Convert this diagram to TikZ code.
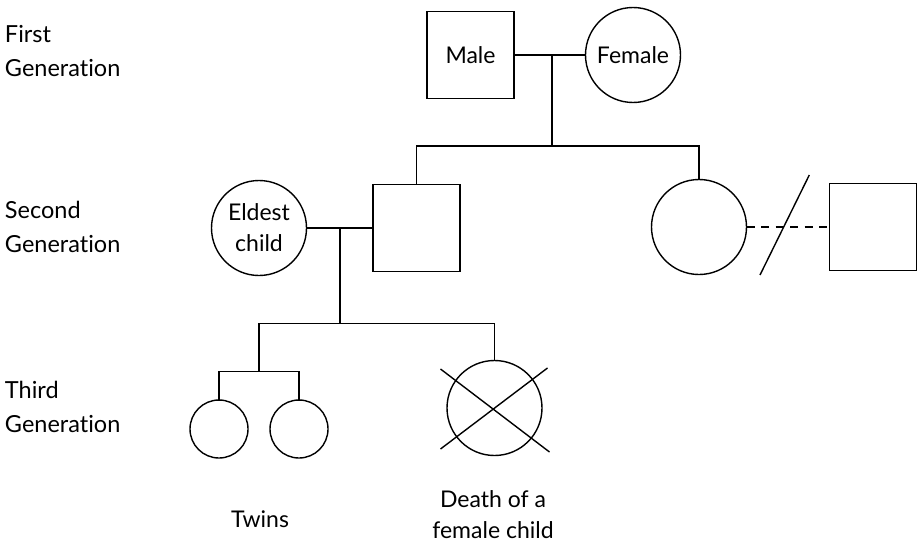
\documentclass[tikz,border=0pt]{standalone}
\usepackage{fontspec}
\setmainfont{Lato}[Ligatures=NoCommon]
\usetikzlibrary{calc}
\begin{document}
\begin{tikzpicture}[x=1pt,y=-1pt,
  every node/.style={inner sep=0pt, outer sep=0pt},
  ln/.style={line width=1.4pt, line cap=rect},
  txt/.style={font=\fontsize{23}{31}\selectfont, align=center},
  genlabel/.style={font=\fontsize{23.5}{34.5}\selectfont, align=left, anchor=base west},
  malebox/.style={draw, line width=1.4pt, rectangle, minimum size=87pt, txt},
  femcirc/.style={draw, line width=1.4pt, circle, minimum size=95pt, txt},
  twincirc/.style={draw, line width=1.4pt, circle, minimum size=58pt}]
\useasboundingbox (0,0) rectangle (920,543);

% generation labels (anchored at baseline of last line)
\node[genlabel] (g1) at (5,77) {First\\Generation};
\node[genlabel] (g2) at (5,252.5) {Second\\Generation};
\node[genlabel] (g3) at (5,432.5) {Third\\Generation};

% first generation
\node[malebox] (male) at (470.5,55) {Male};
\node[femcirc] (female) at (633,55) {Female};

% second generation
\node[femcirc] (eldest) at (259,228) {Eldest\\child};
\node[malebox] (son) at (416.5,228) {};
\node[femcirc] (sister) at (699,227) {};
\node[malebox] (partner) at (873,227) {};

% third generation
\node[twincirc] (twin1) at (219,429) {};
\node[twincirc] (twin2) at (299,429) {};
\node[femcirc] (dead) at (494.5,408) {};

% captions
\node[txt, anchor=base] (twins) at (260,527.7) {Twins};
\node[txt, anchor=base] (death) at (493,538.5) {Death of a\\female child};

% junction coordinates
\coordinate (m1) at (552,55);
\coordinate (sib1) at (552,146);
\coordinate (m2) at (340,228);
\coordinate (sib2) at (340,323.3);
\coordinate (tj) at (259,371.7);
\coordinate (s1) at (760,275);
\coordinate (s2) at (809.3,175);
\coordinate (c1) at ($(dead)+(-54,-39)$);
\coordinate (c2) at ($(dead)+(55,44)$);
\coordinate (c3) at ($(dead)+(-54,41)$);
\coordinate (c4) at ($(dead)+(53,-40)$);

% connectors
\draw[ln] (male.east) -- (female.west);
\draw[ln] (m1) -- (sib1);
\draw[ln] (son.north) |- (sib1) -| (sister.north);
\draw[ln] (eldest.east) -- (son.west);
\draw[ln] (m2) -- (sib2);
\draw[ln] (tj) |- (sib2) -| (dead.north);
\draw[ln] (twin1.north) |- (tj) -| (twin2.north);
\draw[ln, line cap=butt, dash pattern=on 8pt off 6.5pt] (sister.east) -- (partner.west);
\draw[ln, line cap=butt] (s1) -- (s2);
\draw[ln, line cap=butt] (c1) -- (c2);
\draw[ln, line cap=butt] (c3) -- (c4);
\end{tikzpicture}
\end{document}
